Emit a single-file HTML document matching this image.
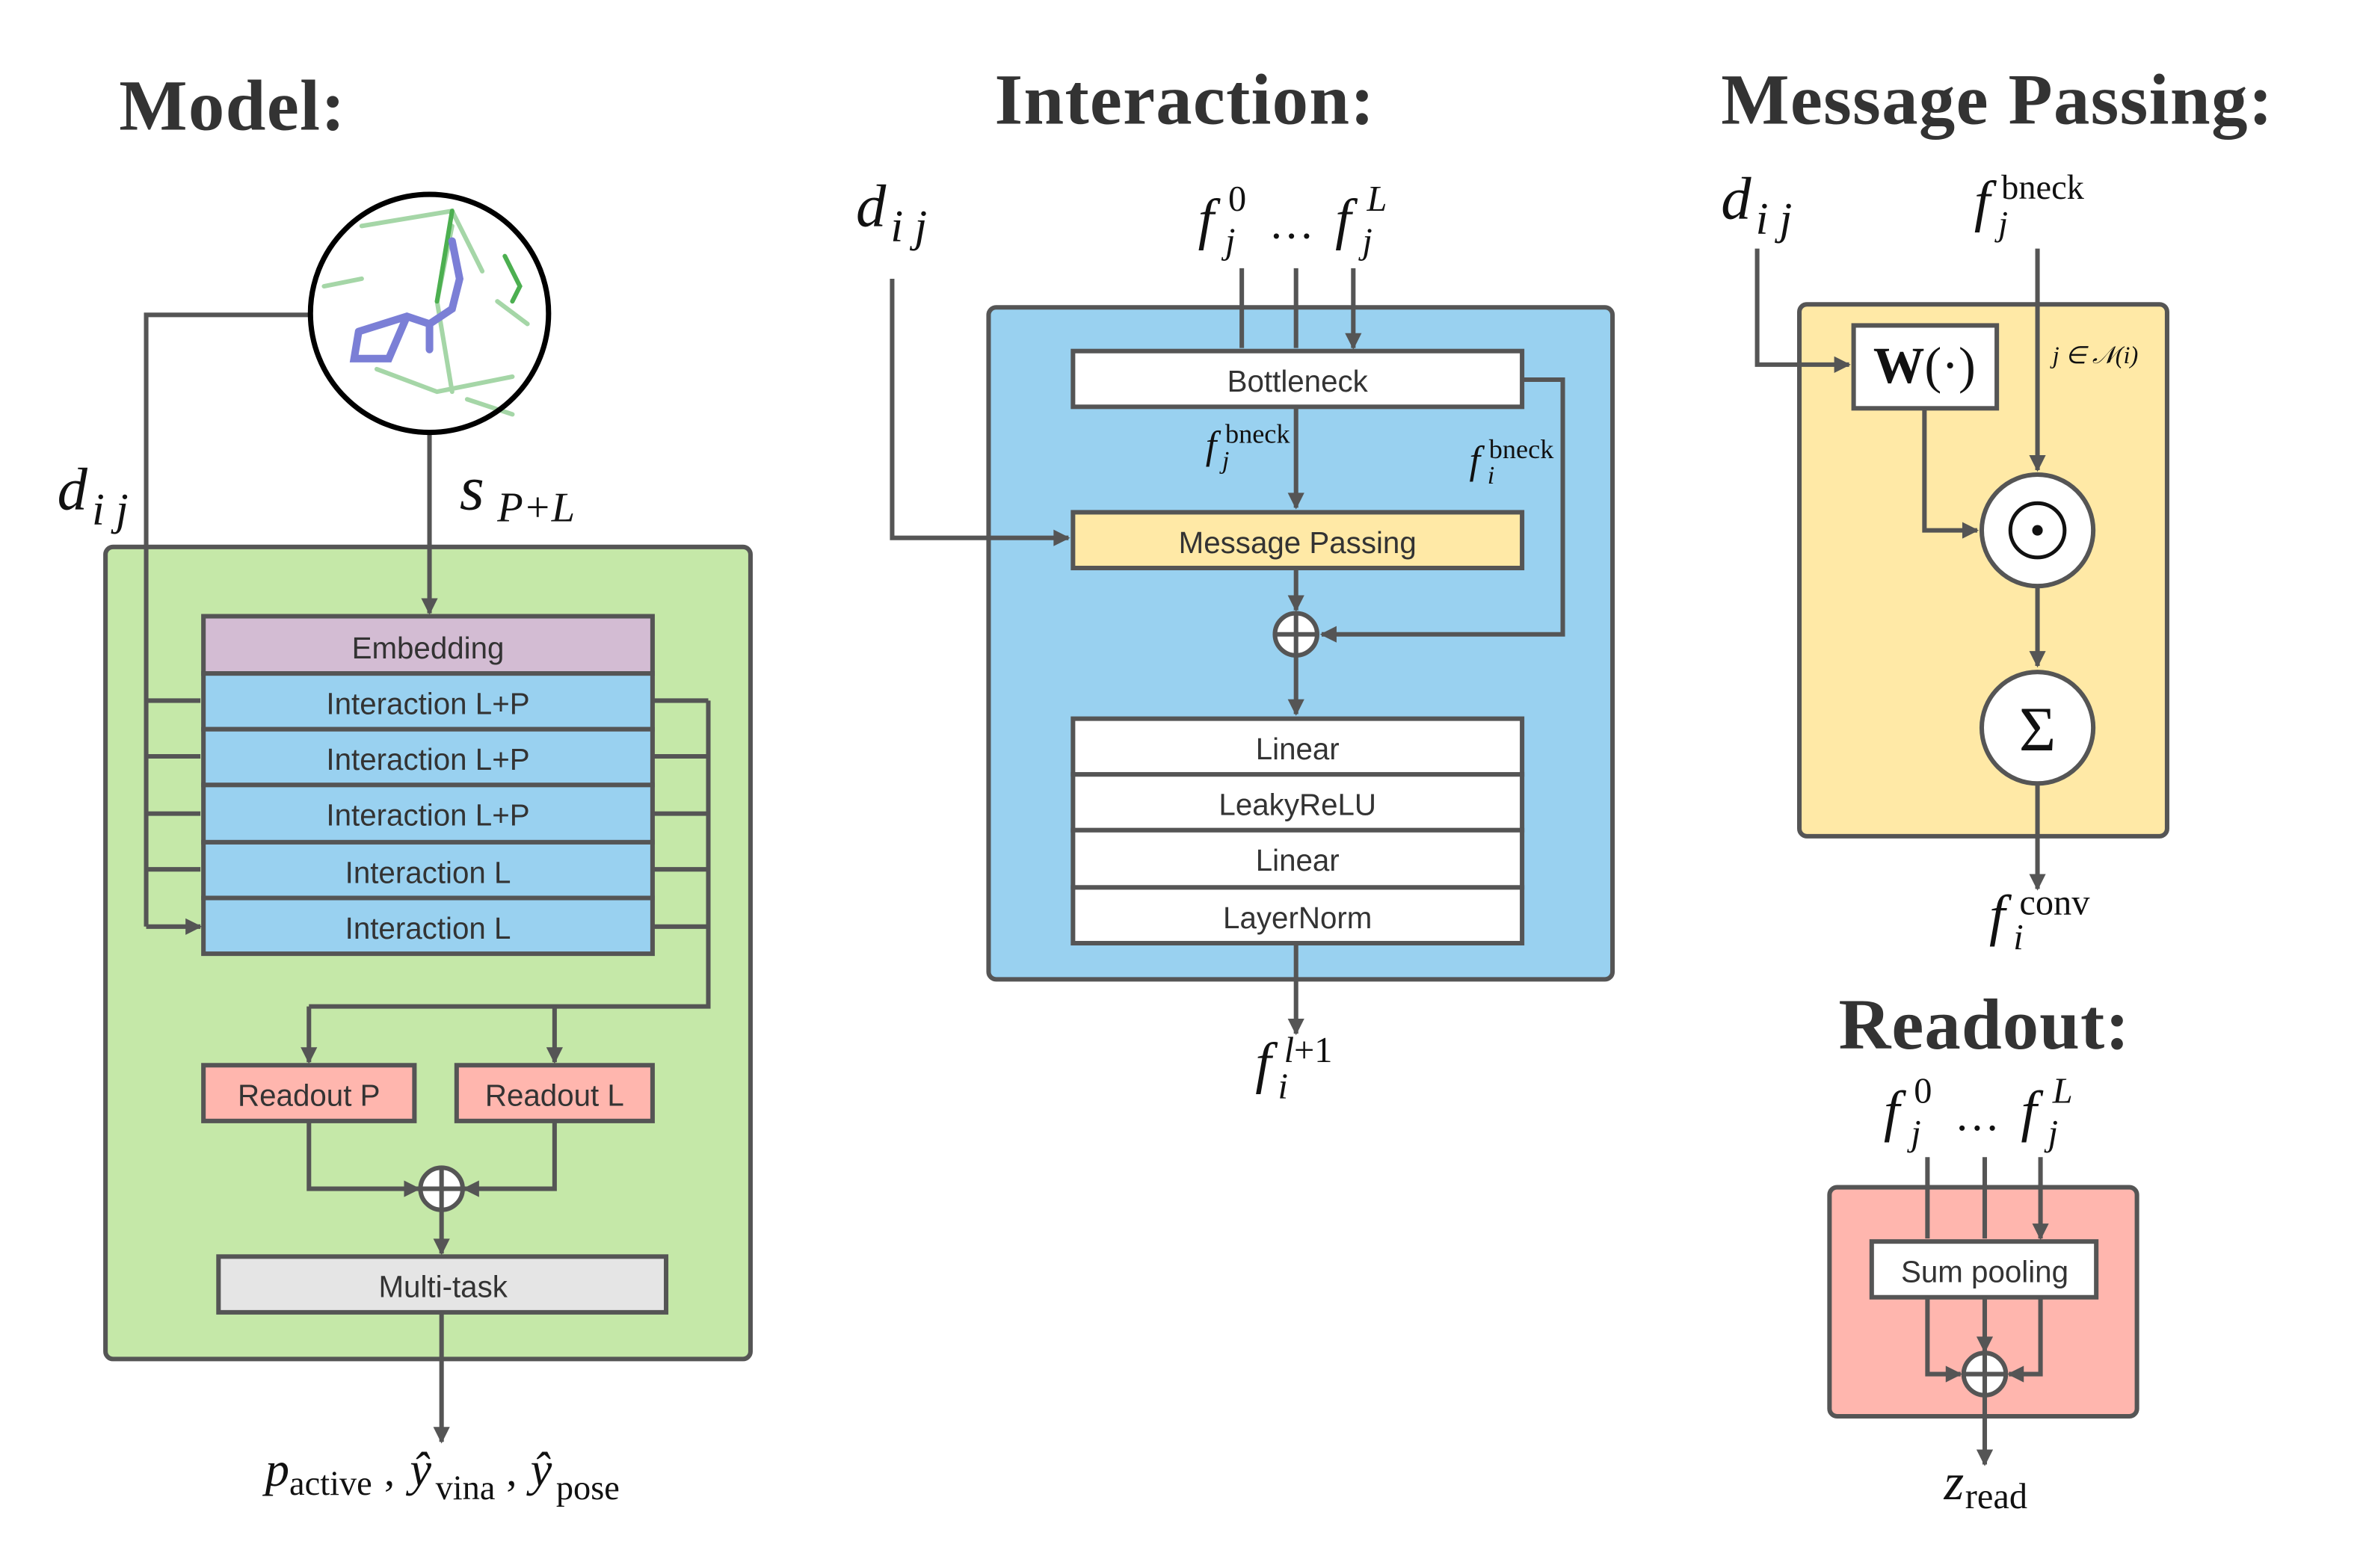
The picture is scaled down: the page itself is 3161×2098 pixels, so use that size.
<!DOCTYPE html>
<html><head><meta charset="utf-8"><style>
html,body{margin:0;padding:0;background:#fff;}
svg{display:block;}
.t{font-family:"Liberation Sans",sans-serif;font-size:20px;fill:#333;text-anchor:middle;}
.h{font-family:"Liberation Serif",serif;font-weight:bold;font-size:48px;fill:#333;}
.m{font-family:"Liberation Serif",serif;font-style:italic;fill:#111;}
.n{font-family:"Liberation Serif",serif;fill:#111;}
.ln{stroke:#555;stroke-width:3;fill:none;}
.bx{stroke:#555;stroke-width:3;}
</style></head><body>
<svg width="3161" height="2098" viewBox="0 0 1568 1040.7" preserveAspectRatio="none" xmlns="http://www.w3.org/2000/svg">
<defs><marker id="a" viewBox="0 0 10 10" refX="9" refY="5" markerWidth="14" markerHeight="11" markerUnits="userSpaceOnUse" orient="auto"><path d="M0,0L10,5L0,10z" fill="#555"/></marker></defs>
<text class="h" x="79" y="86" textLength="150">Model:</text>
<text class="h" x="660" y="82" textLength="252">Interaction:</text>
<text class="h" x="1142" y="82" textLength="366">Message Passing:</text>
<text class="h" x="1220" y="696" textLength="193">Readout:</text>

<rect x="70" y="363" width="428" height="539" rx="5" fill="#c5e8a8" class="bx"/>
<path class="ln" d="M205,209H97V615" />
<path class="ln" marker-end="url(#a)" d="M97,465H133M97,502H133M97,540H133M97,577H133M97,615H133"/>
<path class="ln" marker-end="url(#a)" d="M285,287V407"/>
<circle cx="285" cy="208" r="79" fill="#fff"/>
<g stroke-linecap="round" fill="none">
<path d="M240,150L300,140L320,180M250,245L290,260L340,250M330,200L350,215M215,190L240,185M300,150L290,200L300,260M310,265L340,275" stroke="#a5d6a7" stroke-width="3"/>
<path d="M335,170L345,190L340,200M300,140l-10,60" stroke="#4caf50" stroke-width="3"/>
<path d="M238,220L270,210L285,215L300,205L305,185L300,160M285,215L285,232M238,220L235,238L258,238L270,210" stroke="#7b7fd6" stroke-width="5"/>
</g>
<circle cx="285" cy="208" r="79" fill="none" stroke="#000" stroke-width="3.5"/>
<text class="m" x="38" y="338" font-size="40">d</text><text class="m" x="61" y="348" font-size="30">i j</text>
<text class="m" x="305" y="338" font-size="42">s</text><text class="m" x="330" y="346" font-size="28">P+L</text>
<rect x="135" y="409" width="298" height="38" fill="#d3bcd3" class="bx"/>
<text class="t" x="284" y="437">Embedding</text>
<g class="bx" fill="#99d1f0">
<rect x="135" y="447" width="298" height="37"/><rect x="135" y="484" width="298" height="37"/>
<rect x="135" y="521" width="298" height="38"/><rect x="135" y="559" width="298" height="37"/>
<rect x="135" y="596" width="298" height="37"/></g>
<text class="t" x="284" y="474">Interaction L+P</text>
<text class="t" x="284" y="511">Interaction L+P</text>
<text class="t" x="284" y="548">Interaction L+P</text>
<text class="t" x="284" y="586">Interaction L</text>
<text class="t" x="284" y="623">Interaction L</text>
<path class="ln" d="M433,465H470M433,502H470M433,540H470M433,577H470M433,615H470M470,465V668H205"/>
<path class="ln" marker-end="url(#a)" d="M205,668V705"/>
<path class="ln" marker-end="url(#a)" d="M368,668V705"/>
<rect x="135" y="707" width="140" height="37" fill="#ffb6ae" class="bx"/>
<rect x="303" y="707" width="130" height="37" fill="#ffb6ae" class="bx"/>
<text class="t" x="205" y="734">Readout P</text>
<text class="t" x="368" y="734">Readout L</text>
<path class="ln" marker-end="url(#a)" d="M205,744V789H278"/>
<path class="ln" marker-end="url(#a)" d="M368,744V789H308"/>
<circle cx="293" cy="789" r="14" fill="#fff" class="bx"/><path class="ln" d="M279,789H307M293,775V803"/>
<path class="ln" marker-end="url(#a)" d="M293,803V832"/>
<rect x="145" y="834" width="297" height="37" fill="#e5e5e5" class="bx"/>
<text class="t" x="294" y="861">Multi-task</text>
<path class="ln" marker-end="url(#a)" d="M293,871V957"/>
<text class="m" x="176" y="986" font-size="32">p</text><text class="n" x="192" y="992" font-size="23">active</text>
<text class="n" x="255" y="986" font-size="28">,</text>
<text class="m" x="272" y="986" font-size="32">ŷ</text><text class="n" x="289" y="995" font-size="23">vina</text>
<text class="n" x="336" y="986" font-size="28">,</text>
<text class="m" x="352" y="986" font-size="32">ŷ</text><text class="n" x="369" y="995" font-size="23">pose</text>

<rect x="656" y="204" width="414" height="446" rx="5" fill="#99d1f0" class="bx"/>
<text class="m" x="795" y="158" font-size="38">f</text><text class="m" x="813" y="168" font-size="24">j</text><text class="n" x="815" y="140" font-size="24">0</text>
<text class="n" x="842" y="158" font-size="30">…</text>
<text class="m" x="886" y="158" font-size="38">f</text><text class="m" x="904" y="168" font-size="24">j</text><text class="m" x="907" y="140" font-size="24">L</text>
<path class="ln" marker-end="url(#a)" d="M824,178V231M860,178V231M898,178V231"/>
<rect x="712" y="233" width="298" height="37" fill="#fff" class="bx"/>
<text class="t" x="861" y="260">Bottleneck</text>
<path class="ln" marker-end="url(#a)" d="M860,270V337"/>
<text class="m" x="800" y="304" font-size="26">f</text><text class="n" x="813" y="294" font-size="18">bneck</text><text class="m" x="811" y="311" font-size="17">j</text>
<path class="ln" marker-end="url(#a)" d="M1010,252H1037V421H877"/>
<text class="m" x="975" y="314" font-size="26">f</text><text class="n" x="988" y="304" font-size="18">bneck</text><text class="m" x="987" y="321" font-size="17">i</text>
<text class="m" x="568" y="150" font-size="40">d</text><text class="m" x="591" y="160" font-size="30">i j</text>
<path class="ln" marker-end="url(#a)" d="M592,185V357H709"/>
<rect x="712" y="340" width="298" height="37" fill="#ffe9a6" class="bx"/>
<text class="t" x="861" y="367">Message Passing</text>
<path class="ln" marker-end="url(#a)" d="M860,377V405"/>
<circle cx="860" cy="421" r="14" fill="#fff" class="bx"/><path class="ln" d="M846,421H874M860,407V435"/>
<path class="ln" marker-end="url(#a)" d="M860,435V474"/>
<g class="bx" fill="#fff"><rect x="712" y="477" width="298" height="37"/><rect x="712" y="514" width="298" height="37"/><rect x="712" y="551" width="298" height="38"/><rect x="712" y="589" width="298" height="37"/></g>
<text class="t" x="861" y="504">Linear</text>
<text class="t" x="861" y="541">LeakyReLU</text>
<text class="t" x="861" y="578">Linear</text>
<text class="t" x="861" y="616">LayerNorm</text>
<path class="ln" marker-end="url(#a)" d="M860,626V686"/>
<text class="m" x="833" y="718" font-size="38">f</text><text class="m" x="848" y="729" font-size="24">i</text><text class="m" x="852" y="705" font-size="24">l<tspan font-style="normal">+1</tspan></text>

<rect x="1194" y="202" width="244" height="353" rx="5" fill="#ffe9a6" class="bx"/>
<text class="m" x="1142" y="145" font-size="40">d</text><text class="m" x="1165" y="155" font-size="30">i j</text>
<path class="ln" marker-end="url(#a)" d="M1166,165V242H1227"/>
<rect x="1230" y="216" width="95" height="55" fill="#fff" class="bx"/>
<text x="1277" y="254" font-family="Liberation Serif,serif" font-size="34" fill="#111" text-anchor="middle"><tspan font-weight="bold">W</tspan>(·)</text>
<text class="m" x="1310" y="146" font-size="38">f</text><text class="n" x="1328" y="132" font-size="23">bneck</text><text class="m" x="1326" y="156" font-size="23">j</text>
<path class="ln" marker-end="url(#a)" d="M1352,165V312"/>
<text class="m" x="1362" y="241" font-size="16">j ∈ 𝒩(i)</text>
<path class="ln" marker-end="url(#a)" d="M1277,271V352H1312"/>
<circle cx="1352" cy="352" r="37" fill="#fff" class="bx"/>
<circle cx="1352" cy="352" r="18" fill="none" stroke="#111" stroke-width="2.5"/><circle cx="1352" cy="352" r="3.5" fill="#111"/>
<path class="ln" marker-end="url(#a)" d="M1352,389V442"/>
<circle cx="1352" cy="483" r="37" fill="#fff" class="bx"/>
<text x="1352" y="498" font-family="Liberation Serif,serif" font-size="42" fill="#111" text-anchor="middle">Σ</text>
<path class="ln" marker-end="url(#a)" d="M1352,520V590"/>
<text class="m" x="1320" y="620" font-size="38">f</text><text class="n" x="1340" y="607" font-size="24">conv</text><text class="m" x="1336" y="630" font-size="24">i</text>

<text class="m" x="1250" y="750" font-size="38">f</text><text class="m" x="1268" y="760" font-size="24">j</text><text class="n" x="1270" y="732" font-size="24">0</text>
<text class="n" x="1297" y="750" font-size="30">…</text>
<text class="m" x="1341" y="750" font-size="38">f</text><text class="m" x="1359" y="760" font-size="24">j</text><text class="m" x="1362" y="732" font-size="24">L</text>
<rect x="1214" y="788" width="204" height="152" rx="5" fill="#ffb6ae" class="bx"/>
<path class="ln" marker-end="url(#a)" d="M1279,768V822M1317,768V822M1354,768V822"/>
<rect x="1242" y="824" width="149" height="37" fill="#fff" class="bx"/>
<text class="t" x="1317" y="851">Sum pooling</text>
<path class="ln" marker-end="url(#a)" d="M1279,861V912H1301"/>
<path class="ln" marker-end="url(#a)" d="M1354,861V912H1333"/>
<path class="ln" marker-end="url(#a)" d="M1317,861V897"/>
<circle cx="1317" cy="912" r="14" fill="#fff" class="bx"/><path class="ln" d="M1303,912H1331M1317,898V926"/>
<path class="ln" marker-end="url(#a)" d="M1317,926V972"/>
<text class="m" x="1290" y="995" font-size="34">z</text><text class="n" x="1304" y="1001" font-size="24">read</text>
</svg>
</body></html>
